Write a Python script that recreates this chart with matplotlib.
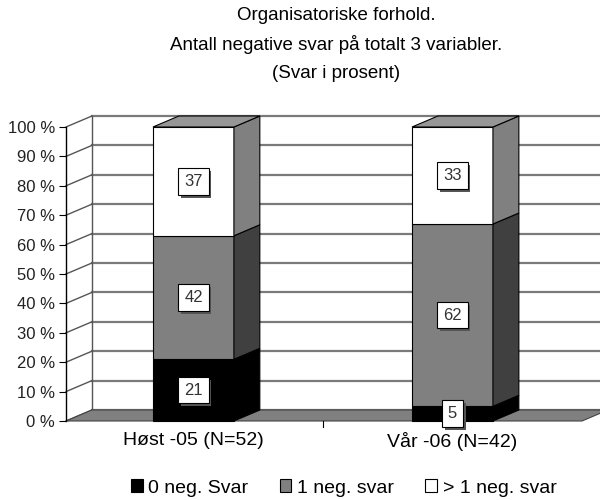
import numpy as np
import matplotlib.pyplot as plt
from matplotlib.patches import Polygon, Patch
from matplotlib import patheffects

plt.rcParams['font.family'] = ['Liberation Sans', 'DejaVu Sans']

# Data
categories = ["Høst -05 (N=52)", "Vår -06 (N=42)"]
series_names = ["0 neg. Svar", "1 neg. svar", "> 1 neg. svar"]
zero_neg = [21, 5]
one_neg = [42, 62]
more_neg = [37, 33]
title_lines = ["Organisatoriske forhold.",
               "Antall negative svar på totalt 3 variabler.",
               "(Svar i prosent)"]

series = [zero_neg, one_neg, more_neg]
front_colors = ["#000000", "#808080", "#ffffff"]
side_colors = ["#000000", "#404040", "#808080"]
top_color = "#969696"

# 3D look
bar_w = 0.3125
dx, dy = 0.10, 3.74   # depth offset (x in category units, y in %)
xl, xr = -0.492, 1.5

fig = plt.figure(figsize=(6, 5), dpi=100)
ax = fig.add_axes([66 / 600, 79 / 500, (582 - 66) / 600, 294 / 500])
ax.set_xlim(xl, xr)
ax.set_ylim(0, 100)
for s in ax.spines.values():
    s.set_visible(False)


def poly(pts, fc, ec="black", lw=0.8, z=1):
    p = Polygon(pts, closed=True, facecolor=fc, edgecolor=ec, linewidth=lw,
                zorder=z, clip_on=False)
    ax.add_patch(p)


# back wall and side wall
poly([(xl + dx, dy), (xr + dx + 0.2, dy), (xr + dx + 0.2, 100 + dy), (xl + dx, 100 + dy)],
     "white", ec="none", z=0)
poly([(xl, 0), (xl + dx, dy), (xl + dx, 100 + dy), (xl, 100)], "white", ec="none", z=0)
ticks = np.arange(0, 101, 10)
for v in ticks:
    ax.plot([xl + dx, xr + dx + 0.2], [v + dy, v + dy], color="#7a7a7a", lw=1.6,
            zorder=0.5, clip_on=False)
    ax.plot([xl, xl + dx], [v, v + dy], color="#555555", lw=1.0, zorder=0.5, clip_on=False)
ax.plot([xl + dx, xl + dx], [dy, 100 + dy], color="#555555", lw=1.0, zorder=0.5, clip_on=False)

# floor
poly([(xl, 0), (xr, 0), (xr + dx, dy), (xl + dx, dy)], "#808080", ec="#444444", lw=0.8, z=0.8)

# front axis
ax.plot([xl, xl], [0, 100], color="black", lw=1.0, clip_on=False, zorder=0.9)
ax.set_yticks(ticks)
ax.set_yticklabels([f"{v} %" for v in ticks], fontsize=12, color="#222222")
ax.tick_params(axis="y", length=5, width=0.8, pad=3)
ax.set_xticks(range(len(categories)))
ax.set_xticklabels(categories, fontsize=14)
ax.tick_params(axis="x", length=0, pad=8)
for xt in [0.5]:
    ax.plot([xt, xt], [0, -2], color="black", lw=0.8, clip_on=False)

# bars
for i in range(len(categories)):
    x0, x1 = i - bar_w / 2, i + bar_w / 2
    bottom = 0
    for k, vals in enumerate(series):
        h = vals[i]
        top = bottom + h
        poly([(x0, bottom), (x1, bottom), (x1, top), (x0, top)], front_colors[k], z=2)
        poly([(x1, bottom), (x1 + dx, bottom + dy), (x1 + dx, top + dy), (x1, top)],
             side_colors[k], z=2)
        t = ax.text(i, bottom + h / 2, str(h), ha="center", va="center", fontsize=12,
                    color="#333333", zorder=5,
                    bbox=dict(boxstyle="square,pad=0.35", fc="white", ec="black", lw=0.8))
        t.get_bbox_patch().set_path_effects([
            patheffects.SimplePatchShadow(offset=(2, -2), shadow_rgbFace="#555555", alpha=1),
            patheffects.Normal()])
        bottom = top
    poly([(x0, bottom), (x1, bottom), (x1 + dx, bottom + dy), (x0 + dx, bottom + dy)],
         top_color, z=2)

# title
for j, y in zip(range(3), [16, 44, 73]):
    fig.text(0.56, 1 - y / 500, title_lines[j], ha="center", va="center", fontsize=13.5)

# legend
handles = [Patch(facecolor=c, edgecolor="black", linewidth=0.8) for c in front_colors]
fig.legend(handles, series_names, loc="center", bbox_to_anchor=(0.573, 0.024), ncol=3,
           frameon=False, fontsize=14, handlelength=0.6, handleheight=0.6,
           handletextpad=0.3, columnspacing=1.6)

fig.savefig("out.png", dpi=100)
